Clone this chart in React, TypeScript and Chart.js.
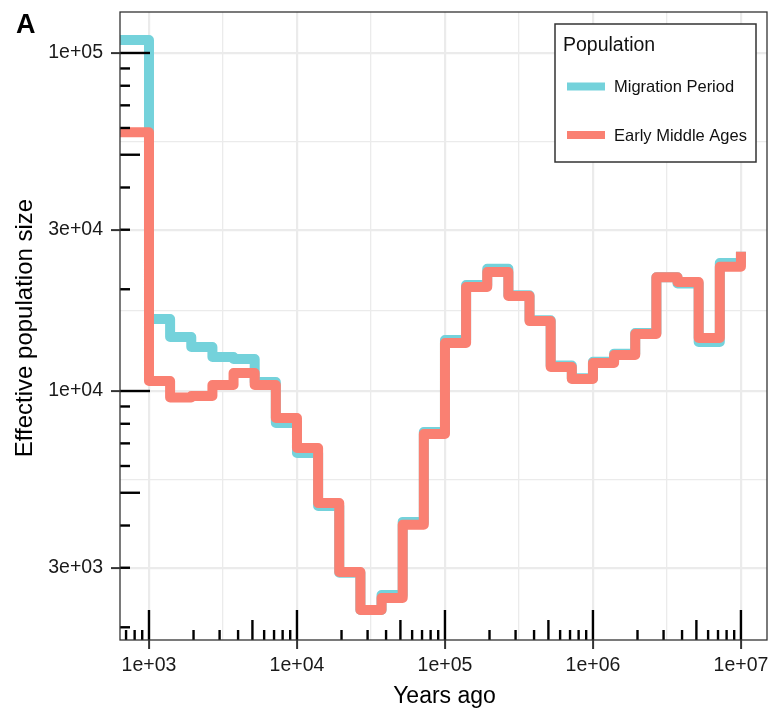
import React, { useEffect, useRef } from 'react';
import { Chart, registerables } from 'chart.js';

Chart.register(...registerables);

// ---- data ----
// start year of each PSMC step (the last entry only closes the final step)
const stepStartYears = [
  500, 1000, 1389, 1931, 2683, 3728, 5179, 7197,
  10000, 13895, 19307, 26827, 37276, 51795, 71969,
  100000, 138950, 193070, 268270, 372760, 517950, 719690,
  1000000, 1389500, 1930700, 2682700, 3727600, 5179500, 7196900,
  10000000,
];
const migrationPeriodNe = [
  109300, 16330, 14450, 13490, 12600, 12430, 10630, 8040,
  6560, 4570, 2900, 2250, 2490, 4100, 7560,
  14150, 20600, 23000, 19200, 16200, 11900, 10900,
  12200, 12900, 14850, 21700, 20800, 13960, 23900,
  25800,
];
const earlyMiddleAgesNe = [
  58300, 10700, 9570, 9660, 10420, 11300, 10420, 8320,
  6780, 4660, 2914, 2250, 2440, 4020, 7460,
  13870, 20300, 22500, 19100, 16100, 11780, 10850,
  12100, 12780, 14750, 21700, 21000, 14350, 23300,
  25800,
];
const seriesNames = ['Migration Period', 'Early Middle Ages'];
const seriesColors = ['#74D2DB', '#FA8072'];

const xMajorTicks = [1e3, 1e4, 1e5, 1e6, 1e7];
const xMajorLabels = ['1e+03', '1e+04', '1e+05', '1e+06', '1e+07'];
const xMinorTicks = [3162.28, 31622.8, 316228, 3162278];
const yMajorTicks = [3000, 10000, 30000, 100000];
const yMajorLabels = ['3e+03', '1e+04', '3e+04', '1e+05'];
const yMinorTicks = [5477.2, 17320.5, 54772.3];
const xLimits = [637, 1.5e7];
const yLimits = [1834, 132200];
const logTickDecades = [100, 1000, 10000, 100000, 1000000, 10000000];
const logTickMultipliers = [1, 2, 3, 4, 5, 6, 7, 8, 9];

const panelLabel = 'A';
const xTitle = 'Years ago';
const yTitle = 'Effective population size';
const legendTitle = 'Population';

const FONT = '"Liberation Sans", Arial, Helvetica, sans-serif';

const isMajor = (list: number[], v: number) => list.some((m) => Math.abs(m - v) / m < 1e-6);

const logTicksPlugin = {
  id: 'logTicks',
  afterDatasetsDraw(chart: any) {
    const { ctx, chartArea: a, scales } = chart;
    ctx.save();
    ctx.beginPath();
    ctx.rect(a.left, a.top, a.right - a.left, a.bottom - a.top);
    ctx.clip();
    ctx.strokeStyle = '#000000';
    ctx.lineWidth = 2.4;
    ctx.lineCap = 'butt';
    for (const d of logTickDecades) {
      for (const m of logTickMultipliers) {
        const v = d * m;
        const len = m === 1 ? 30 : m === 5 ? 20 : 10;
        const x = scales.x.getPixelForValue(v);
        if (x >= a.left && x <= a.right) {
          ctx.beginPath();
          ctx.moveTo(x, a.bottom);
          ctx.lineTo(x, a.bottom - len);
          ctx.stroke();
        }
        const y = scales.y.getPixelForValue(v);
        if (y >= a.top && y <= a.bottom) {
          ctx.beginPath();
          ctx.moveTo(a.left, y);
          ctx.lineTo(a.left + len, y);
          ctx.stroke();
        }
      }
    }
    ctx.restore();
  },
};

const decorPlugin = {
  id: 'decor',
  afterDraw(chart: any) {
    const { ctx, chartArea: a } = chart;
    ctx.save();
    // panel border
    ctx.strokeStyle = '#333333';
    ctx.lineWidth = 1.3;
    ctx.strokeRect(a.left, a.top, a.right - a.left, a.bottom - a.top);

    // legend
    const lx = a.right - 212;
    const ly = a.top + 12;
    const lw = 201;
    const lh = 138;
    ctx.fillStyle = '#ffffff';
    ctx.fillRect(lx, ly, lw, lh);
    ctx.strokeStyle = '#333333';
    ctx.lineWidth = 1.5;
    ctx.strokeRect(lx, ly, lw, lh);
    ctx.fillStyle = '#111111';
    ctx.textAlign = 'left';
    ctx.textBaseline = 'alphabetic';
    ctx.font = `19.5px ${FONT}`;
    ctx.fillText(legendTitle, lx + 8, ly + 26.5);
    const keyY = [ly + 62.5, ly + 111];
    seriesNames.forEach((name, i) => {
      ctx.strokeStyle = seriesColors[i];
      ctx.lineWidth = 8;
      ctx.lineCap = 'butt';
      ctx.beginPath();
      ctx.moveTo(lx + 12, keyY[i]);
      ctx.lineTo(lx + 50, keyY[i]);
      ctx.stroke();
      ctx.fillStyle = '#111111';
      ctx.font = `16.5px ${FONT}`;
      ctx.fillText(name, lx + 59, keyY[i] + 5.8);
    });

    // axis titles
    ctx.fillStyle = '#000000';
    ctx.font = `23px ${FONT}`;
    ctx.textAlign = 'center';
    ctx.fillText(xTitle, (a.left + a.right) / 2 + 1, 703);
    ctx.save();
    ctx.translate(32, (a.top + a.bottom) / 2 + 2);
    ctx.rotate(-Math.PI / 2);
    ctx.font = `24px ${FONT}`;
    ctx.fillText(yTitle, 0, 0);
    ctx.restore();

    // panel tag
    ctx.textAlign = 'left';
    ctx.font = `bold 27px ${FONT}`;
    ctx.fillText(panelLabel, 16, 33);
    ctx.restore();
  },
};

const zeroPadding = (s: any) => {
  s.paddingTop = 0;
  s.paddingBottom = 0;
  s.paddingLeft = 0;
  s.paddingRight = 0;
};

export default function App() {
  const canvasRef = useRef<HTMLCanvasElement | null>(null);

  useEffect(() => {
    document.body.style.margin = '0';
    const canvas = canvasRef.current;
    if (!canvas) return;

    const mkData = (vals: number[]) => stepStartYears.map((x, i) => ({ x, y: vals[i] }));

    const gridColor = '#EBEBEB';
    const tickFont = { family: FONT, size: 19.5 };

    const chart = new Chart(canvas, {
      type: 'line',
      data: {
        datasets: [
          {
            label: seriesNames[0],
            data: mkData(migrationPeriodNe),
            borderColor: seriesColors[0],
            backgroundColor: seriesColors[0],
            borderWidth: 10,
            stepped: 'before',
            pointRadius: 0,
            borderJoinStyle: 'round',
            borderCapStyle: 'butt',
            clip: 0,
            order: 1,
          },
          {
            label: seriesNames[1],
            data: mkData(earlyMiddleAgesNe),
            borderColor: seriesColors[1],
            backgroundColor: seriesColors[1],
            borderWidth: 10,
            stepped: 'before',
            pointRadius: 0,
            borderJoinStyle: 'round',
            borderCapStyle: 'butt',
            clip: 0,
            order: 0,
          },
        ],
      },
      options: {
        responsive: false,
        animation: false,
        devicePixelRatio: 1,
        layout: { padding: { top: 12, right: 2, left: 0, bottom: 0 } },
        plugins: { legend: { display: false }, tooltip: { enabled: false } },
        scales: {
          x: {
            type: 'logarithmic',
            min: xLimits[0],
            max: xLimits[1],
            bounds: 'data',
            afterBuildTicks: (s: any) => {
              s.ticks = [...xMajorTicks, ...xMinorTicks]
                .sort((p, q) => p - q)
                .map((value) => ({ value }));
            },
            afterFit: (s: any) => {
              s.height = 68;
              zeroPadding(s);
            },
            ticks: {
              autoSkip: false,
              maxRotation: 0,
              minRotation: 0,
              padding: 5,
              color: '#1a1a1a',
              font: tickFont,
              callback: (v: any) => {
                const i = xMajorTicks.findIndex((m) => Math.abs(m - v) / m < 1e-6);
                return i >= 0 ? xMajorLabels[i] : '';
              },
            },
            grid: {
              color: gridColor,
              lineWidth: (c: any) => (c.tick && isMajor(xMajorTicks, c.tick.value) ? 2.2 : 1.3),
              tickColor: (c: any) => (c.tick && isMajor(xMajorTicks, c.tick.value) ? '#333333' : 'rgba(0,0,0,0)'),
              tickWidth: 2,
              tickLength: 9,
              drawTicks: true,
            },
            border: { display: false },
          },
          y: {
            type: 'logarithmic',
            min: yLimits[0],
            max: yLimits[1],
            bounds: 'data',
            afterBuildTicks: (s: any) => {
              s.ticks = [...yMajorTicks, ...yMinorTicks]
                .sort((p, q) => p - q)
                .map((value) => ({ value }));
            },
            afterFit: (s: any) => {
              s.width = 120;
              zeroPadding(s);
            },
            ticks: {
              autoSkip: false,
              padding: 8,
              color: '#1a1a1a',
              font: tickFont,
              callback: (v: any) => {
                const i = yMajorTicks.findIndex((m) => Math.abs(m - v) / m < 1e-6);
                return i >= 0 ? yMajorLabels[i] : '';
              },
            },
            grid: {
              color: gridColor,
              lineWidth: (c: any) => (c.tick && isMajor(yMajorTicks, c.tick.value) ? 2.2 : 1.3),
              tickColor: (c: any) => (c.tick && isMajor(yMajorTicks, c.tick.value) ? '#333333' : 'rgba(0,0,0,0)'),
              tickWidth: 2,
              tickLength: 9,
              drawTicks: true,
            },
            border: { display: false },
          },
        },
      },
      plugins: [logTicksPlugin, decorPlugin],
    } as any);

    return () => chart.destroy();
  }, []);

  return (
    <div style={{ position: 'absolute', left: 0, top: 0, width: 769, height: 708, background: '#ffffff' }}>
      <canvas ref={canvasRef} width={769} height={708} style={{ width: 769, height: 708, display: 'block' }} />
    </div>
  );
}
